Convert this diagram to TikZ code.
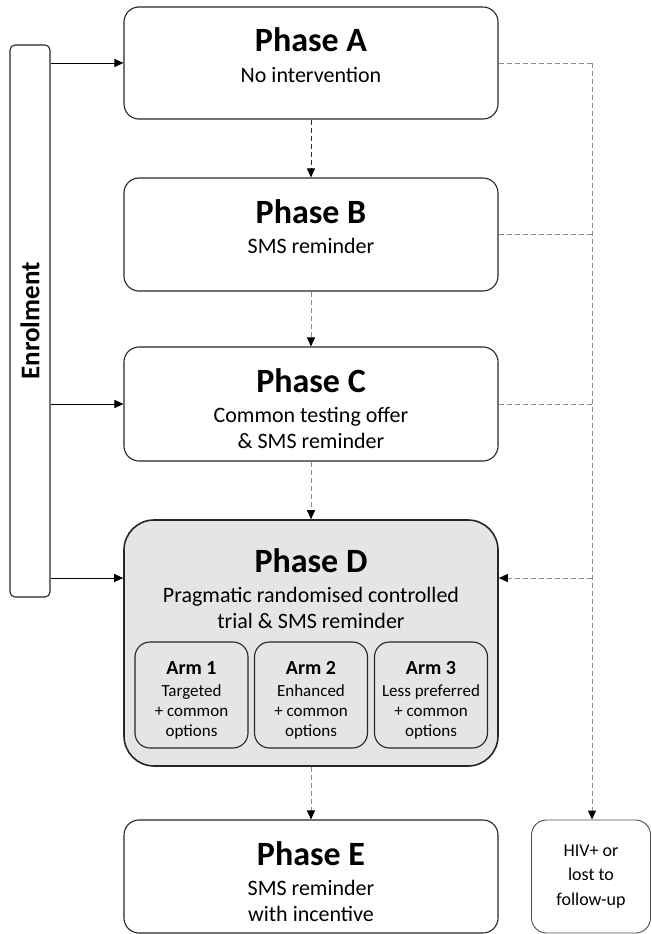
\documentclass[tikz,border=0pt]{standalone}
\usepackage{fontspec}
\setmainfont{Carlito}
\usetikzlibrary{arrows.meta}
\begin{document}
\begin{tikzpicture}[x=1pt,y=-1pt,
 box/.style={draw=black!85, line width=1.1pt, rounded corners=15pt, inner sep=0pt},
 ttl/.style={font=\fontsize{34}{40}\selectfont\bfseries, anchor=base, inner sep=0pt},
 sub/.style={font=\fontsize{22}{26}\selectfont, anchor=base, inner sep=0pt},
 armt/.style={font=\fontsize{20}{24}\selectfont\bfseries, anchor=base, inner sep=0pt},
 arms/.style={font=\fontsize{17}{20}\selectfont, anchor=base, inner sep=0pt},
 arr/.style={-{Triangle[length=9pt,width=8pt]}, line width=0.9pt},
 dsh/.style={dash pattern=on 5pt off 3pt, draw=black!45, line width=0.9pt},
 tip/.style={-{Triangle[length=9pt,width=8pt,color=black]}},
]
\useasboundingbox (0,0) rectangle (651,934);

% boxes
\node[box, minimum width=40pt, minimum height=552pt, rounded corners=5pt] (enrol) at (30,321) {};
\node[rotate=90, font=\fontsize{27}{32}\selectfont\bfseries, inner sep=0pt] (enroltxt) at (enrol.center) {Enrolment};

\node[box, minimum width=374pt, minimum height=112pt] (A) at (311,63) {};
\node[box, minimum width=374pt, minimum height=113pt] (B) at (311,234.5) {};
\node[box, minimum width=374pt, minimum height=114pt] (C) at (311,404) {};
\node[box, minimum width=374pt, minimum height=246pt, rounded corners=30pt, fill=black!10, line width=1.6pt] (D) at (311,643) {};
\node[box, minimum width=374pt, minimum height=113pt] (E) at (311,876.5) {};
\node[box, draw=black!70, line width=0.9pt, minimum width=119pt, minimum height=113pt, align=center, font=\fontsize{18}{24.5}\selectfont] (hiv) at (591,876.5) {HIV+ or\\lost to\\follow-up};

% texts
\node[ttl] (At) at (311,52) {Phase A};
\node[sub] (As) at (311,82) {No intervention};
\node[ttl] (Bt) at (311,223) {Phase B};
\node[sub] (Bs) at (311,253) {SMS reminder};
\node[ttl] (Ct) at (311,392) {Phase C};
\node[sub] (Cs1) at (311,422) {Common testing offer};
\node[sub] (Cs2) at (311,448) {\& SMS reminder};
\node[ttl] (Dt) at (311,572) {Phase D};
\node[sub] (Ds1) at (311,602) {Pragmatic randomised controlled};
\node[sub] (Ds2) at (311,628) {trial \& SMS reminder};
\node[ttl] (Et) at (311,865) {Phase E};
\node[sub] (Es1) at (311,895) {SMS reminder};
\node[sub] (Es2) at (311,921) {with incentive};

% arms
\foreach \n/\x/\t in {1/191.5/Targeted, 2/311/Enhanced, 3/431/Less preferred}{
  \node[box, minimum width=113pt, minimum height=106pt] (arm\n) at (\x,695) {};
  \node[armt] (arm\n t) at (\x,674) {Arm \n};
  \node[arms] (arm\n a) at (\x,696) {\t};
  \node[arms] (arm\n b) at (\x,716) {+ common};
  \node[arms] (arm\n c) at (\x,736) {options};
}

% enrolment arrows
\coordinate (dArrow) at (0,578);
\coordinate (rx) at (592,0);
\draw[arr] (enrol.east |- A.west) -- (A.west);
\draw[arr] (enrol.east |- C.west) -- (C.west);
\draw[arr] (enrol.east |- dArrow) -- (D.west |- dArrow);

% central dashed
\draw[dsh, draw=black!80, tip] (A.south) -- (B.north);
\draw[dsh, tip] (B.south) -- (C.north);
\draw[dsh, tip] (C.south) -- (D.north);
\draw[dsh, tip] (D.south) -- (E.north);

% right dashed
\draw[dsh] (A.east) -- (rx |- A.east);
\draw[dsh, tip] (rx |- A.east) -- (rx |- hiv.north);
\draw[dsh] (B.east) -- (rx |- B.east);
\draw[dsh] (C.east) -- (rx |- C.east);
\draw[dsh, tip] (rx |- dArrow) -- (D.east |- dArrow);
\end{tikzpicture}
\end{document}
